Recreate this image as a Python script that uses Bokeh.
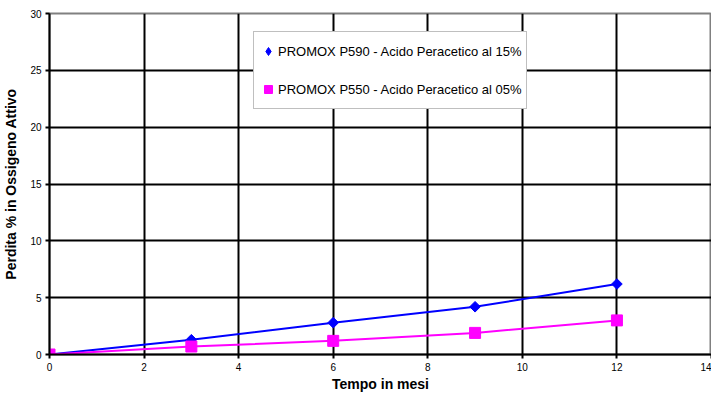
import math
from bokeh.plotting import figure
from bokeh.models import Range1d, FixedTicker, Legend, LegendItem
from bokeh.embed import file_html
from bokeh.resources import INLINE

# Data
months = [0, 3, 6, 9, 12]
p590 = [0, 1.3, 2.8, 4.2, 6.2]
p550 = [0, 0.7, 1.2, 1.9, 3.0]
x_ticks = [0, 2, 4, 6, 8, 10, 12, 14]
y_ticks = [0, 5, 10, 15, 20, 25, 30]
label_590 = "PROMOX P590 - Acido Peracetico al 15%"
label_550 = "PROMOX P550 - Acido Peracetico al 05%"
x_title = "Tempo in mesi"
y_title = "Perdita % in Ossigeno Attivo"

FONT = "Liberation Sans"
BLUE = "#0000FF"
PINK = "#FF00FF"

p = figure(width=711, height=394, x_range=Range1d(0, 14), y_range=Range1d(0, 30),
           output_backend="svg", toolbar_location=None,
           min_border_left=42, min_border_top=13, min_border_right=0, min_border_bottom=0)
p.background_fill_color = "white"
p.border_fill_color = "white"
p.outline_line_color = "#808080"
p.outline_line_width = 2

p.xgrid.ticker = FixedTicker(ticks=x_ticks[1:-1])
p.ygrid.ticker = FixedTicker(ticks=y_ticks[1:-1])
for g in (p.xgrid, p.ygrid):
    g.grid_line_color = "black"
    g.grid_line_width = 2

for ax, ticks in ((p.xaxis, x_ticks), (p.yaxis, y_ticks)):
    ax.ticker = FixedTicker(ticks=ticks)
    ax.axis_line_color = "black"
    ax.axis_line_width = 2
    ax.major_tick_line_color = "black"
    ax.major_tick_line_width = 2
    ax.major_tick_out = 4
    ax.major_tick_in = 0
    ax.minor_tick_out = 0
    ax.minor_tick_in = 0
    ax.major_label_text_font = FONT
    ax.major_label_text_font_size = "10px"
    ax.major_label_text_color = "black"
    ax.axis_label_text_font = FONT
    ax.axis_label_text_font_size = "14px"
    ax.axis_label_text_font_style = "bold"
    ax.axis_label_text_color = "black"

p.xaxis.axis_label = x_title
p.yaxis.axis_label = y_title
p.xaxis.major_label_standoff = 4
p.xaxis.axis_label_standoff = 2
p.yaxis.major_label_standoff = 4
p.yaxis.axis_label_standoff = 8

p.line(months, p590, line_color=BLUE, line_width=2)
p.scatter(months, p590, marker="square", angle=math.pi / 4, size=7.5,
          fill_color=BLUE, line_color=BLUE)
p.line(months, p550, line_color=PINK, line_width=2)
r550 = p.scatter(months, p550, marker="square", size=11, fill_color=PINK, line_color=PINK)

# zero-size renderer so the legend shows a diamond symbol
leg590 = p.scatter(months, p590, marker="diamond", size=0, fill_color=BLUE, line_color=BLUE)

legend = Legend(items=[LegendItem(label=label_590, renderers=[leg590]),
                       LegendItem(label=label_550, renderers=[r550])],
                location=(204, 245))
legend.border_line_color = "#808080"
legend.border_line_width = 1
legend.background_fill_color = "white"
legend.background_fill_alpha = 1
legend.label_text_font = FONT
legend.label_text_font_size = "13px"
legend.label_text_color = "black"
legend.glyph_width = 20
legend.glyph_height = 22
legend.label_height = 30
legend.spacing = 8
legend.padding = 4
legend.margin = 0
legend.label_standoff = 0
p.add_layout(legend, "center")

open("out.html", "w").write(file_html(p, INLINE))
